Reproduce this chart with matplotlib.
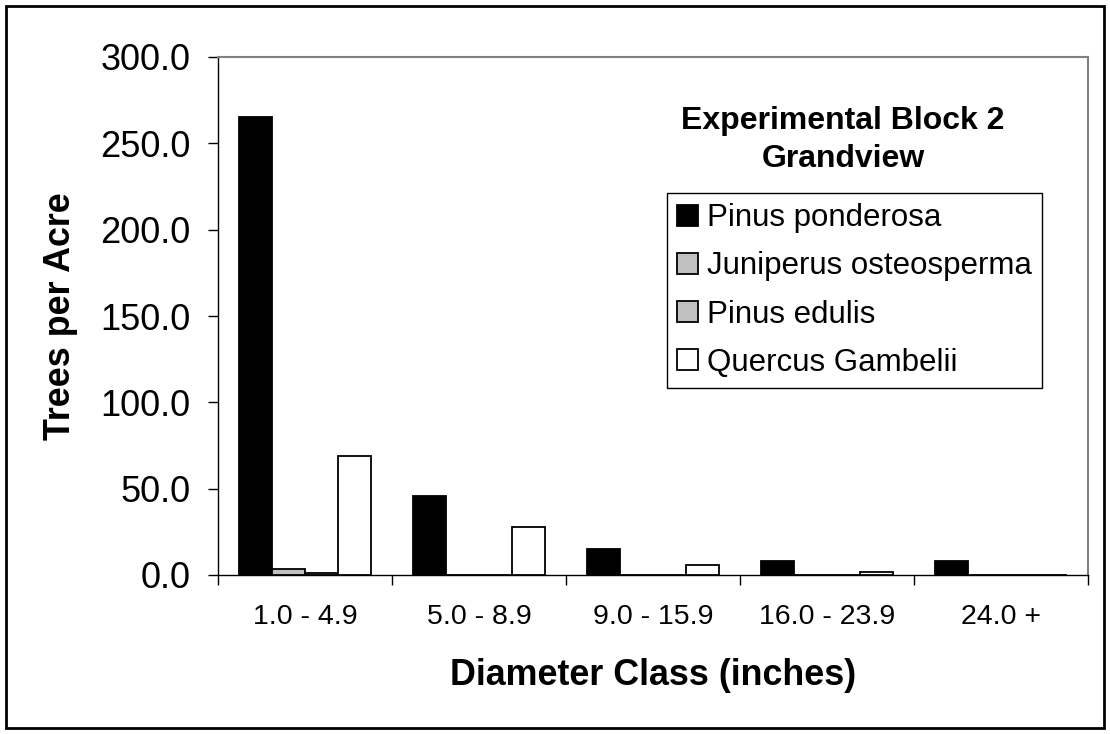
import numpy as np
import matplotlib
matplotlib.use("Agg")
import matplotlib.pyplot as plt
from matplotlib.patches import Rectangle

plt.rcParams['font.family'] = ['Liberation Sans', 'DejaVu Sans']

# Datos
categorias = ["1.0 - 4.9", "5.0 - 8.9", "9.0 - 15.9", "16.0 - 23.9", "24.0 +"]
especies = ["Pinus ponderosa", "Juniperus osteosperma", "Pinus edulis", "Quercus Gambelii"]
ponderosa = [265.0, 46.0, 15.0, 8.0, 8.0]
juniperus = [3.5, 0.0, 0.0, 0.0, 0.0]
edulis = [1.0, 0.0, 0.0, 0.0, 0.0]
quercus = [69.0, 28.0, 6.0, 1.5, 0.0]
y_ticks = [0, 50, 100, 150, 200, 250, 300]

series = [ponderosa, juniperus, edulis, quercus]
cores = ["black", "#c0c0c0", "#c0c0c0", "white"]

fig = plt.figure(figsize=(11.1, 7.34), dpi=100)
W, H = 1110, 734
ax = fig.add_axes([218 / W, 1 - 575 / H, 870 / W, 518 / H])

x = np.arange(len(categorias))
largura = 0.19
for i, (vals, cor, nome) in enumerate(zip(series, cores, especies)):
    ax.bar(x + (i - 1.5) * largura, vals, largura, color=cor,
           edgecolor="black", linewidth=1.3, label=nome, zorder=3)

ax.set_xlim(-0.5, len(categorias) - 0.5)
ax.set_ylim(0, 300)
ax.set_yticks(y_ticks)
ax.set_yticklabels([f"{v:.1f}" for v in y_ticks], fontsize=26)
ax.tick_params(axis="y", direction="out", length=7, width=1, pad=13)

ax.set_xticks(x)
ax.set_xticklabels(categorias, fontsize=20.5)
ax.tick_params(axis="x", which="major", length=0, pad=21)
ax.set_xticks(np.arange(-0.5, len(categorias)), minor=True)
ax.tick_params(axis="x", which="minor", direction="out", length=7, width=1)

for lado in ["top", "right"]:
    ax.spines[lado].set_color("#808080")
    ax.spines[lado].set_linewidth(1.5)
for lado in ["left", "bottom"]:
    ax.spines[lado].set_color("black")
    ax.spines[lado].set_linewidth(1)

ax.set_ylabel("Trees per Acre", fontsize=25.8, fontweight="bold")
ax.yaxis.set_label_coords(-0.161, 0.5)
ax.set_xlabel("Diameter Class (inches)", fontsize=25.8, fontweight="bold")
ax.xaxis.set_label_coords(0.5, -0.16)

# Titulo dentro do grafico
fig.text(843 / W, 1 - 140 / H, "Experimental Block 2\nGrandview", ha="center", va="center",
         fontsize=23, fontweight="bold", linespacing=1.35)

leg = ax.legend(loc="upper left", bbox_to_anchor=(667 / W, 1 - 193 / H),
                bbox_transform=fig.transFigure, fontsize=22.5, frameon=True,
                fancybox=False, edgecolor="black", framealpha=1,
                handlelength=0.65, handleheight=0.65, handletextpad=0.3,
                labelspacing=0.58, borderpad=0.33, borderaxespad=0)
leg.get_frame().set_linewidth(1)

# Borda externa
fig.patches.append(Rectangle((6 / W, 6 / H), 1 - 12 / W, 1 - 12 / H, transform=fig.transFigure,
                             fill=False, edgecolor="black", linewidth=2))

fig.savefig("out.png", dpi=100)
